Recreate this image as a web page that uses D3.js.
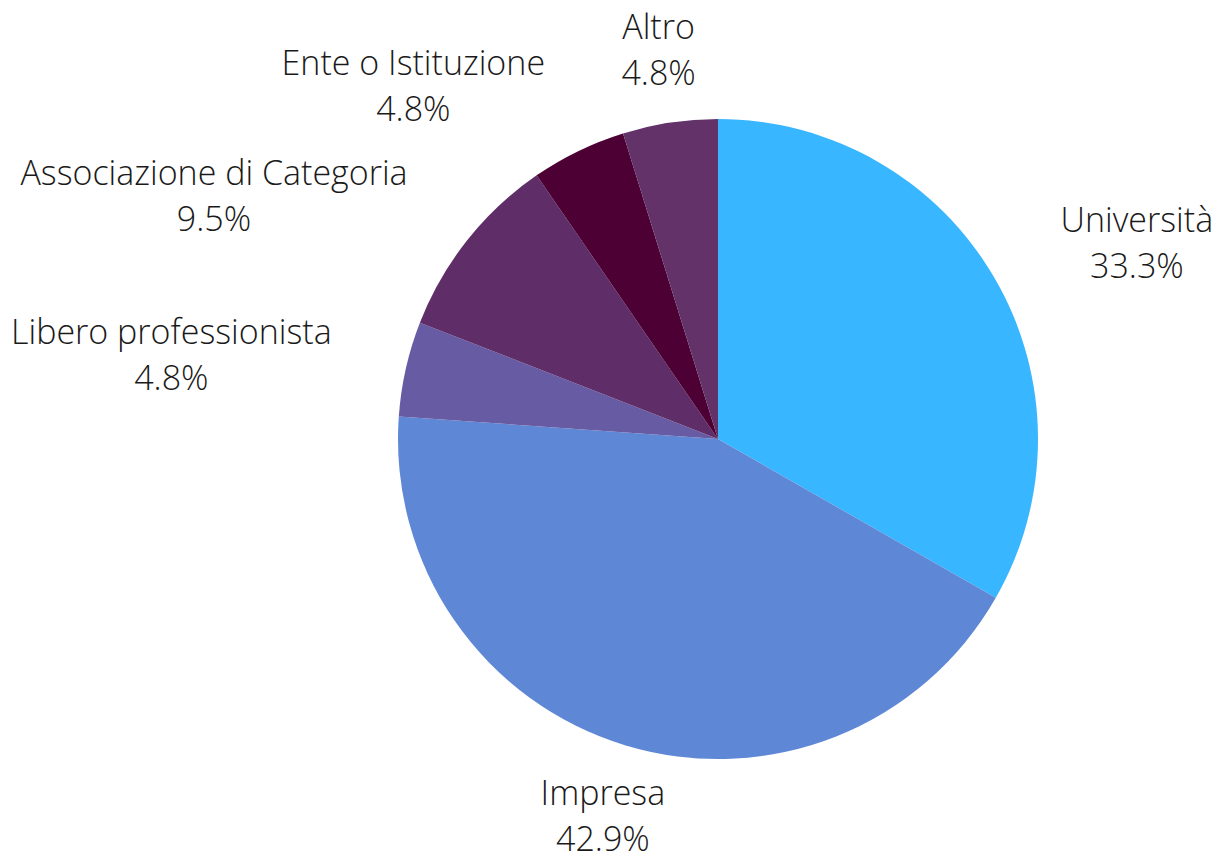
<!DOCTYPE html>
<html>
<head>
<meta charset="utf-8">
<script src="https://cdn.jsdelivr.net/npm/d3@7"></script>
<style>
  body { margin: 0; background: #fff; }
  text { font-family: "Open Sans", sans-serif; font-weight: 300; fill: #1a1a1a; }
</style>
</head>
<body>
<div id="chart"></div>
<script>
// dati
const categories = ["Università", "Impresa", "Libero professionista", "Associazione di Categoria", "Ente o Istituzione", "Altro"];
const values = [33.3, 42.9, 4.8, 9.5, 4.8, 4.8];
const colors = ["#38B6FF", "#5E87D6", "#675BA4", "#5F2D68", "#4C0033", "#623268"];

const width = 1215, height = 854;
const cx = 718, cy = 439, radius = 320;
const labelRadius = 396;
const fontSize = 34, lineGap = 46;

const data = categories.map((c, i) => ({name: c, value: values[i], color: colors[i]}));

const svg = d3.select("#chart")
  .append("svg")
    .attr("width", width)
    .attr("height", height);

const pie = d3.pie().sort(null).value(d => d.value);
const arc = d3.arc().innerRadius(0).outerRadius(radius);
const labelArc = d3.arc().innerRadius(labelRadius).outerRadius(labelRadius);

const arcs = pie(data);

const g = svg.append("g")
  .attr("transform", `translate(${cx},${cy})`);

g.selectAll("path")
  .data(arcs)
  .join("path")
    .attr("fill", d => d.data.color)
    .attr("d", arc);

const labels = g.selectAll("g.label")
  .data(arcs)
  .join("g")
    .attr("class", "label");

labels.each(function(d) {
  const lg = d3.select(this);
  const t1 = lg.append("text")
    .attr("font-size", fontSize)
    .attr("text-anchor", "middle")
    .attr("y", -lineGap / 2)
    .attr("dy", "0.35em")
    .text(d.data.name);
  const t2 = lg.append("text")
    .attr("font-size", fontSize)
    .attr("text-anchor", "middle")
    .attr("y", lineGap / 2)
    .attr("dy", "0.35em")
    .text(d.data.value.toFixed(1) + "%");
  const w = Math.max(t1.node().getComputedTextLength(), t2.node().getComputedTextLength());
  const [x, y] = labelArc.centroid(d);
  const s = Math.sin((d.startAngle + d.endAngle) / 2);
  let dx = 0;
  if (s > 0.35) dx = w / 2;
  else if (s < -0.35) dx = -w / 2;
  // le etichette in alto scendono un poco
  const dy = y < 0 ? 3 : -2;
  lg.attr("transform", `translate(${x + dx},${y + dy})`);
});
</script>
</body>
</html>
